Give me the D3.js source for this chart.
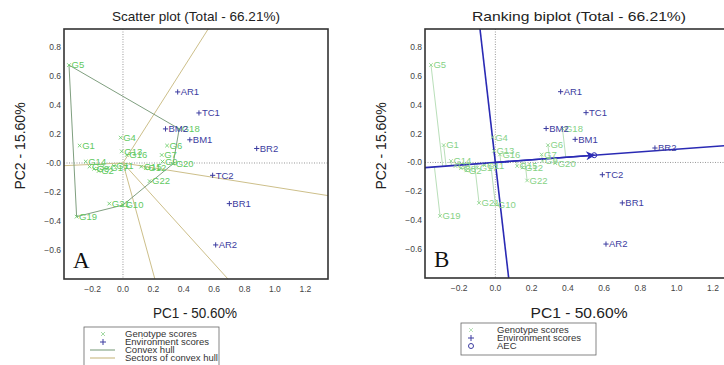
<!DOCTYPE html>
<html>
<head>
<meta charset="utf-8">
<script src="https://cdn.jsdelivr.net/npm/d3@7"></script>
<style>
  body { margin: 0; background: #fff; }
  svg { display: block; font-family: 'Liberation Sans', Arial, sans-serif; }
</style>
</head>
<body>
<div id="graphic"></div>
<script>
// genotype scores
const genoNames = ['G1', 'G2', 'G3', 'G4', 'G5', 'G6', 'G7', 'G8', 'G9', 'G10', 'G11',
  'G12', 'G13', 'G14', 'G15', 'G16', 'G17', 'G18', 'G19', 'G20', 'G21', 'G22'];
const genoPC1 = [-0.285, -0.16, -0.22, -0.015, -0.355, 0.29, 0.255, -0.19, 0.26, 0.0, -0.06,
  0.15, -0.008, -0.245, 0.12, 0.025, -0.10, 0.37, -0.305, 0.33, -0.09, 0.175];
const genoPC2 = [0.12, -0.055, -0.025, 0.175, 0.675, 0.12, 0.055, -0.04, 0.01, -0.29, -0.02,
  -0.035, 0.08, 0.01, -0.025, 0.055, -0.035, 0.235, -0.37, -0.005, -0.28, -0.125];

// environment scores
const envNames = ['AR1', 'TC1', 'BM2', 'BM1', 'BR2', 'TC2', 'BR1', 'AR2'];
const envPC1 = [0.36, 0.50, 0.28, 0.44, 0.88, 0.59, 0.70, 0.61];
const envPC2 = [0.49, 0.345, 0.235, 0.16, 0.10, -0.085, -0.28, -0.565];

const xTicks = [-0.2, 0.0, 0.2, 0.4, 0.6, 0.8, 1.0, 1.2];
const yTicks = [0.8, 0.6, 0.4, 0.2, 0.0, -0.2, -0.4, -0.6];

const xDomain = [-0.388, 1.349];
const yDomain = [-0.80, 0.924];

const genos = genoNames.map((n, i) => ({ name: n, x: genoPC1[i], y: genoPC2[i] }));
const envs = envNames.map((n, i) => ({ name: n, x: envPC1[i], y: envPC2[i] }));

const svg = d3.select('#graphic').append('svg')
  .attr('width', 724)
  .attr('height', 365);

const defs = svg.append('defs');
defs.append('marker')
  .attr('id', 'arrow')
  .attr('viewBox', '0 0 10 10')
  .attr('refX', 9).attr('refY', 5)
  .attr('markerWidth', 13).attr('markerHeight', 9)
  .attr('markerUnits', 'userSpaceOnUse')
  .attr('orient', 'auto')
  .append('path')
  .attr('d', 'M0,0L10,5L0,10L3,5Z')
  .attr('fill', '#2a2ab4');

function drawPanel(p) {
  const x = d3.scaleLinear().domain(xDomain).range([p.left, p.right]);
  const y = d3.scaleLinear().domain(yDomain).range([p.bottom, p.top]);

  defs.append('clipPath').attr('id', 'clip' + p.id)
    .append('rect')
    .attr('x', p.left).attr('y', p.top)
    .attr('width', p.right - p.left).attr('height', p.bottom - p.top);

  const g = svg.append('g');
  const plot = g.append('g').attr('clip-path', 'url(#clip' + p.id + ')');

  // title
  g.append('text')
    .attr('x', p.titleX)
    .attr('y', 21)
    .attr('text-anchor', 'middle')
    .attr('font-size', 13.5)
    .attr('fill', '#222')
    .attr('textLength', p.titleLen)
    .attr('lengthAdjust', 'spacingAndGlyphs')
    .text(p.title);

  // dotted zero lines
  plot.append('line')
    .attr('x1', x(0)).attr('x2', x(0)).attr('y1', p.top).attr('y2', p.bottom)
    .attr('stroke', '#999').attr('stroke-dasharray', '1,1.5');
  plot.append('line')
    .attr('x1', p.left).attr('x2', p.right).attr('y1', y(0)).attr('y2', y(0))
    .attr('stroke', '#999').attr('stroke-dasharray', '1,1.5');

  p.extra(plot, x, y);

  const gc = p.genoColor;

  // genotype markers and labels
  const gm = plot.selectAll('.geno').data(genos).enter().append('g').attr('class', 'geno');
  gm.append('path')
    .attr('d', d => {
      const cx = x(d.x), cy = y(d.y), s = 1.8;
      return `M${cx - s},${cy - s}L${cx + s},${cy + s}M${cx - s},${cy + s}L${cx + s},${cy - s}`;
    })
    .attr('stroke', gc).attr('stroke-width', 0.8);
  gm.append('text')
    .attr('x', d => x(d.x) + 2.5)
    .attr('y', d => y(d.y))
    .attr('dy', '0.35em')
    .attr('font-size', 9.5)
    .attr('fill', gc)
    .text(d => d.name);

  // environment markers and labels
  const em = plot.selectAll('.env').data(envs).enter().append('g').attr('class', 'env');
  em.append('path')
    .attr('d', d => {
      const cx = x(d.x), cy = y(d.y), s = 2.6;
      return `M${cx - s},${cy}L${cx + s},${cy}M${cx},${cy - s}L${cx},${cy + s}`;
    })
    .attr('stroke', '#3c3ca0').attr('stroke-width', 1);
  em.append('text')
    .attr('x', d => x(d.x) + 3)
    .attr('y', d => y(d.y))
    .attr('dy', '0.35em')
    .attr('font-size', 9.5)
    .attr('fill', '#3c3ca0')
    .text(d => d.name);

  // frame
  g.append('rect')
    .attr('x', p.left).attr('y', p.top)
    .attr('width', p.right - p.left).attr('height', p.bottom - p.top)
    .attr('fill', 'none').attr('stroke', '#333').attr('stroke-width', 1.6);

  // tick labels
  g.selectAll('.xt').data(xTicks).enter().append('text')
    .attr('x', d => x(d)).attr('y', p.bottom + 13)
    .attr('text-anchor', 'middle')
    .attr('font-size', 8.5).attr('fill', '#444')
    .text(d => d3.format('.1f')(d));
  g.selectAll('.yt').data(yTicks).enter().append('text')
    .attr('x', p.left - 3).attr('y', d => y(d))
    .attr('dy', '0.35em')
    .attr('text-anchor', 'end')
    .attr('font-size', 8.5).attr('fill', '#444')
    .text(d => d === 0 ? '-0.0' : d3.format('.1f')(d));

  // axis titles
  g.append('text')
    .attr('x', p.xTitleX).attr('y', 318)
    .attr('text-anchor', 'middle')
    .attr('font-size', 14).attr('fill', '#222')
    .attr('textLength', p.xTitleLen)
    .attr('lengthAdjust', 'spacingAndGlyphs')
    .text('PC1 - 50.60%');
  g.append('text')
    .attr('transform', `translate(${p.left - 44},146) rotate(-90)`)
    .attr('text-anchor', 'middle')
    .attr('dy', '0.35em')
    .attr('font-size', 14).attr('fill', '#222')
    .text('PC2 - 15.60%');

  // panel letter
  g.append('text')
    .attr('x', p.left + 9).attr('y', p.bottom - 11)
    .attr('font-family', "'Liberation Serif', 'DejaVu Serif', serif")
    .attr('font-size', 23).attr('fill', '#111')
    .text(p.letter);

  // legend
  const lg = g.append('g');
  lg.append('rect')
    .attr('x', p.legend.x).attr('y', p.legend.y)
    .attr('width', p.legend.w).attr('height', p.legend.h)
    .attr('fill', '#fff').attr('stroke', '#666').attr('stroke-width', 0.8);
  p.legend.items.forEach((it, i) => {
    const cy = p.legend.y + 7 + i * 8;
    const sx = p.legend.x + p.legend.sym;
    if (it.type === 'x') {
      lg.append('path')
        .attr('d', `M${sx - 2},${cy - 2}L${sx + 2},${cy + 2}M${sx - 2},${cy + 2}L${sx + 2},${cy - 2}`)
        .attr('stroke', it.color).attr('stroke-width', 0.8);
    } else if (it.type === '+') {
      lg.append('path')
        .attr('d', `M${sx - 3},${cy}L${sx + 3},${cy}M${sx},${cy - 3}L${sx},${cy + 3}`)
        .attr('stroke', it.color).attr('stroke-width', 1);
    } else if (it.type === 'line') {
      lg.append('line')
        .attr('x1', sx - 13).attr('x2', sx + 12).attr('y1', cy).attr('y2', cy)
        .attr('stroke', it.color).attr('stroke-width', 1.2);
    } else {
      lg.append('circle')
        .attr('cx', sx).attr('cy', cy).attr('r', 2.5)
        .attr('fill', 'none').attr('stroke', it.color).attr('stroke-width', 1);
    }
    lg.append('text')
      .attr('x', p.legend.x + p.legend.text).attr('y', cy)
      .attr('dy', '0.35em')
      .attr('font-size', 9.5).attr('fill', '#333')
      .text(it.label);
  });
}

// panel A: convex hull and its sectors
drawPanel({
  id: 'A', left: 64, right: 328, top: 29, bottom: 279,
  title: 'Scatter plot (Total - 66.21%)', titleX: 196, titleLen: 168,
  xTitleX: 195, xTitleLen: 84,
  letter: 'A', genoColor: '#5fc95f',
  legend: {
    x: 84, y: 327, w: 135, h: 40, sym: 19, text: 41,
    items: [
      { type: 'x', color: '#8fd08f', label: 'Genotype scores' },
      { type: '+', color: '#3c3ca0', label: 'Environment scores' },
      { type: 'line', color: '#8aa88a', label: 'Convex hull' },
      { type: 'line', color: '#cdbf8a', label: 'Sectors of convex hull' }
    ]
  },
  extra: (plot, x, y) => {
    const hull = d3.polygonHull(genos.map(d => [d.x, d.y]));
    // sector rays perpendicular to each hull edge
    hull.forEach((a, i) => {
      const b = hull[(i + 1) % hull.length];
      let nx = b[1] - a[1], ny = -(b[0] - a[0]);
      const mx = (a[0] + b[0]) / 2, my = (a[1] + b[1]) / 2;
      if (nx * mx + ny * my < 0) { nx = -nx; ny = -ny; }
      const len = Math.hypot(nx, ny);
      plot.append('line')
        .attr('x1', x(0)).attr('y1', y(0))
        .attr('x2', x(nx / len * 5)).attr('y2', y(ny / len * 5))
        .attr('stroke', '#cdbf8a').attr('stroke-width', 1);
    });
    plot.append('path')
      .attr('d', 'M' + hull.map(d => x(d[0]) + ',' + y(d[1])).join('L') + 'Z')
      .attr('fill', 'none').attr('stroke', '#7f9f7f').attr('stroke-width', 1);
  }
});

// panel B: ranking biplot along the average environment coordinate
drawPanel({
  id: 'B', left: 425, right: 740, top: 29, bottom: 278,
  title: 'Ranking biplot (Total - 66.21%)', titleX: 579, titleLen: 214,
  xTitleX: 579, xTitleLen: 97,
  letter: 'B', genoColor: '#86d286',
  legend: {
    x: 461, y: 323, w: 135, h: 32, sym: 10, text: 36,
    items: [
      { type: 'x', color: '#a8dca8', label: 'Genotype scores' },
      { type: '+', color: '#3c3ca0', label: 'Environment scores' },
      { type: 'o', color: '#3c3ca0', label: 'AEC' }
    ]
  },
  extra: (plot, x, y) => {
    const mx = d3.mean(envs, d => d.x), my = d3.mean(envs, d => d.y);
    const len = Math.hypot(mx, my);
    const ux = mx / len, uy = my / len;
    // projections of genotypes onto the AEC abscissa
    plot.selectAll('.proj').data(genos).enter().append('line')
      .attr('x1', d => x(d.x)).attr('y1', d => y(d.y))
      .attr('x2', d => x((d.x * ux + d.y * uy) * ux))
      .attr('y2', d => y((d.x * ux + d.y * uy) * uy))
      .attr('stroke', '#b9dfb9').attr('stroke-width', 1);
    plot.append('line')
      .attr('x1', x(-5 * ux)).attr('y1', y(-5 * uy))
      .attr('x2', x(5 * ux)).attr('y2', y(5 * uy))
      .attr('stroke', '#2a2ab4').attr('stroke-width', 1.6);
    plot.append('line')
      .attr('x1', x(5 * uy)).attr('y1', y(-5 * ux))
      .attr('x2', x(-5 * uy)).attr('y2', y(5 * ux))
      .attr('stroke', '#2a2ab4').attr('stroke-width', 1.6);
    plot.append('line')
      .attr('x1', x(0)).attr('y1', y(0))
      .attr('x2', x(mx)).attr('y2', y(my))
      .attr('stroke', '#2a2ab4').attr('stroke-width', 1.6)
      .attr('marker-end', 'url(#arrow)');
    plot.append('circle')
      .attr('cx', x(mx)).attr('cy', y(my)).attr('r', 2.5)
      .attr('fill', 'none').attr('stroke', '#2a2ab4').attr('stroke-width', 1);
  }
});
</script>
</body>
</html>
